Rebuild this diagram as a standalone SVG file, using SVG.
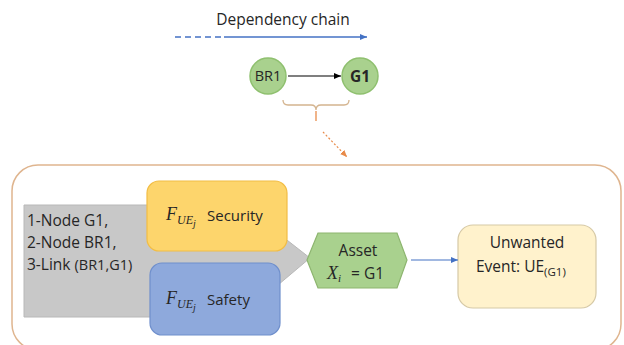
<svg xmlns="http://www.w3.org/2000/svg" width="624" height="345" viewBox="0 0 624 345">
  <defs>
    <style>
      .t { font-family: "Open Sans", "Liberation Sans", sans-serif; fill: #262626; }
      .m { font-family: "Liberation Serif", "DejaVu Serif", serif; font-style: italic; fill: #262626; }
      .circ { fill: #a9d18e; stroke: #8fc06f; stroke-width: 1.5; }
    </style>
    <marker id="ahBlue" markerWidth="8" markerHeight="8" refX="7" refY="4" orient="auto" markerUnits="userSpaceOnUse">
      <path d="M0,1 L7,4 L0,7 Z" fill="#4472c4"/>
    </marker>
    <marker id="ahBlack" markerWidth="8" markerHeight="8" refX="7" refY="4" orient="auto" markerUnits="userSpaceOnUse">
      <path d="M0,1 L7,4 L0,7 Z" fill="#000"/>
    </marker>
    <marker id="ahOrange" markerWidth="8" markerHeight="8" refX="7" refY="4" orient="auto" markerUnits="userSpaceOnUse">
      <path d="M0,1 L7,4 L0,7 Z" fill="#e88b4a"/>
    </marker>
  </defs>
  <rect width="624" height="345" fill="#ffffff"/>

  <!-- header: dependency chain legend -->
  <g id="legend">
    <text class="t" x="283" y="25" font-size="15.5" text-anchor="middle">Dependency chain</text>
    <line x1="175" y1="37" x2="222" y2="37" stroke="#4472c4" stroke-width="1.3" stroke-dasharray="6,4"/>
    <line x1="224" y1="37" x2="367" y2="37" stroke="#4472c4" stroke-width="1.3" marker-end="url(#ahBlue)"/>
  </g>

  <g id="node-br1">
    <circle class="circ" cx="268" cy="76" r="18"/>
    <text class="t" x="268" y="81" font-size="14.5" text-anchor="middle" fill="#3a3a3a">BR1</text>
  </g>
  <g id="node-g1">
    <circle class="circ" cx="360" cy="76" r="18"/>
    <text class="t" x="360" y="82" font-size="15.5" text-anchor="middle" font-weight="bold">G1</text>
  </g>

  <!-- container frame -->
  <g id="container">
    <rect x="12" y="165" width="609" height="185" rx="26" ry="26" fill="#ffffff" stroke="#dfb58f" stroke-width="1.5"/>
  </g>

  <!-- gray input arrow -->
  <g id="inputs">
    <path d="M24,205 L242,205 L310,258 L240,317 L24,317 Z" fill="#c8c8c8" stroke="#b8b8b8" stroke-width="1"/>
    <text class="t" font-size="15.5" fill="#333">
      <tspan x="27" y="226">1-Node G1,</tspan>
      <tspan x="27" y="248">2-Node BR1,</tspan>
      <tspan x="27" y="270">3-Link <tspan font-size="14.5">(BR1,G1)</tspan></tspan>
    </text>
  </g>

  <g id="security">
    <rect x="147" y="181" width="140" height="70" rx="12" ry="12" fill="#fdd56c" stroke="#f2bd45" stroke-width="1.2"/>
    <text x="166" y="220" class="m" font-size="18">F<tspan font-size="12" dy="4">UE</tspan><tspan font-size="10" dy="3">j</tspan></text>
    <text class="t" x="207" y="221" font-size="15">Security</text>
  </g>

  <g id="safety">
    <rect x="150" y="263" width="130" height="72" rx="12" ry="12" fill="#8ea9dc" stroke="#6f8fcc" stroke-width="1.2"/>
    <text x="166" y="304" class="m" font-size="18">F<tspan font-size="12" dy="4">UE</tspan><tspan font-size="10" dy="3">j</tspan></text>
    <text class="t" x="207" y="305" font-size="15">Safety</text>
  </g>

  <g id="asset">
    <path d="M307,260 L318,233 L397,233 L407,260 L397,288 L318,288 Z" fill="#a9d18e" stroke="#8db56f" stroke-width="1.2"/>
    <text class="t" x="358" y="256" font-size="15.5" text-anchor="middle">Asset</text>
    <text x="327" y="279" class="m" font-size="18">X<tspan font-size="11" dy="3">i</tspan></text>
    <text class="t" x="351" y="279" font-size="15.5">= G1</text>
  </g>

  <g id="unwanted-event">
    <rect x="458" y="225" width="138" height="83" rx="15" ry="15" fill="#fff2cc" stroke="#d6c9a6" stroke-width="1.2"/>
    <text class="t" x="527" y="248" font-size="15.5" text-anchor="middle">Unwanted</text>
    <text class="t" x="476" y="272" font-size="15.5">Event: UE<tspan font-size="11.5" dy="4">(G1)</tspan></text>
  </g>

  <!-- connectors -->
  <g id="connectors">
    <line x1="288" y1="76" x2="341" y2="76" stroke="#000" stroke-width="1.2" marker-end="url(#ahBlack)"/>
    <path d="M283,100 Q283,105 288,105 L311,105 Q316,105 316,110 Q316,105 321,105 L344,105 Q349,105 349,100" fill="none" stroke="#d4b48f" stroke-width="1.3"/>
    <line x1="316" y1="111" x2="316" y2="121" stroke="#e88b4a" stroke-width="1.3"/>
    <line x1="323" y1="132" x2="347" y2="157" stroke="#e88b4a" stroke-width="1.2" stroke-dasharray="2,2" marker-end="url(#ahOrange)"/>
    <line x1="411" y1="260" x2="458" y2="260" stroke="#4472c4" stroke-width="1.2" marker-end="url(#ahBlue)"/>
  </g>
</svg>
